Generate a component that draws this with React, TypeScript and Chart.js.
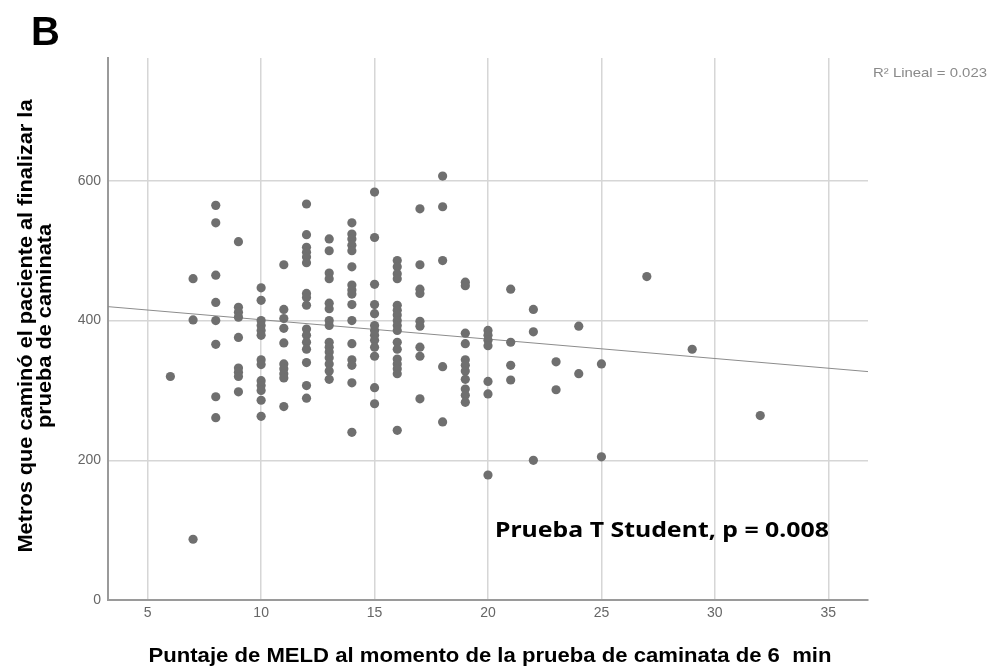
import React, { useEffect, useRef } from "react";
import { Chart, registerables } from "chart.js";

Chart.register(...registerables);

// MELD score of each patient (x) and metres walked (y)
const meldScores: number[] = [
  6,
  7, 7, 7,
  8, 8, 8, 8, 8, 8, 8, 8,
  9, 9, 9, 9, 9, 9, 9, 9, 9,
  10, 10, 10, 10, 10, 10, 10, 10, 10, 10, 10, 10, 10,
  11, 11, 11, 11, 11, 11, 11, 11, 11, 11,
  12, 12, 12, 12, 12, 12, 12, 12, 12, 12, 12, 12, 12, 12, 12, 12,
  13, 13, 13, 13, 13, 13, 13, 13, 13, 13, 13, 13, 13, 13, 13,
  14, 14, 14, 14, 14, 14, 14, 14, 14, 14, 14, 14, 14, 14, 14, 14,
  15, 15, 15, 15, 15, 15, 15, 15, 15, 15, 15, 15, 15,
  16, 16, 16, 16, 16, 16, 16, 16, 16, 16, 16, 16, 16, 16, 16, 16, 16,
  17, 17, 17, 17, 17, 17, 17, 17, 17,
  18, 18, 18, 18, 18,
  19, 19, 19, 19, 19, 19, 19, 19, 19, 19, 19,
  20, 20, 20, 20, 20, 20, 20,
  21, 21, 21, 21,
  22, 22, 22,
  23, 23,
  24, 24,
  25, 25,
  27,
  29,
  32,
];

const metersWalked: number[] = [
  320,
  460, 401, 87,
  565, 540, 465, 426, 400, 366, 291, 261,
  513, 419, 412, 405, 376, 332, 326, 320, 298,
  447, 429, 400, 393, 386, 379, 344, 337, 314, 307, 300, 286, 263,
  480, 416, 403, 389, 368, 338, 331, 324, 318, 277,
  567, 523, 505, 498, 491, 483, 439, 433, 422, 388, 379, 369, 359, 340, 307, 289,
  517, 500, 468, 460, 425, 417, 400, 393, 369, 362, 355, 347, 338, 328, 316,
  540, 524, 517, 508, 500, 477, 451, 444, 438, 423, 400, 367, 344, 336, 311, 240,
  584, 519, 452, 423, 410, 393, 386, 379, 372, 362, 349, 304, 281,
  486, 477, 467, 460, 422, 415, 408, 400, 393, 386, 369, 359, 345, 338, 331, 324, 243,
  560, 480, 445, 439, 399, 392, 362, 349, 288,
  607, 563, 486, 334, 255,
  455, 450, 382, 367, 344, 336, 328, 316, 302, 293, 283,
  386, 379, 372, 364, 313, 295, 179,
  445, 369, 336, 315,
  416, 384, 200,
  341, 301,
  392, 324,
  338, 205,
  463,
  359,
  264,
];

// linear fit line end points (x range of the axis, fitted metres)
const fitX: number[] = [3.25, 36.75];
const fitY: number[] = [420, 327];

const xTicks: number[] = [5, 10, 15, 20, 25, 30, 35];
const yTicks: number[] = [0, 200, 400, 600];

const panelLabel = "B";
const fitLabel = "R\u00B2 Lineal = 0.023";
const testLabel = "Prueba T Student, p = 0.008";
const xTitle = "Puntaje de MELD al momento de la prueba de caminata de 6  min";
const yTitle = ["Metros que camin\u00F3 el paciente al finalizar la", "prueba de caminata"];

const SANS = "'Liberation Sans', Arial, sans-serif";

function drawStretched(
  ctx: CanvasRenderingContext2D,
  text: string,
  x: number,
  y: number,
  scaleX: number,
  rotate: boolean,
  align: CanvasTextAlign
) {
  ctx.save();
  ctx.translate(x, y);
  if (rotate) ctx.rotate(-Math.PI / 2);
  ctx.scale(scaleX, 1);
  ctx.textAlign = align;
  ctx.textBaseline = "alphabetic";
  ctx.fillText(text, 0, 0);
  ctx.restore();
}

const textPlugin = {
  id: "extraText",
  afterDraw(chart: any) {
    const ctx = chart.ctx as CanvasRenderingContext2D;
    const area = chart.chartArea;
    ctx.save();

    // panel letter
    ctx.fillStyle = "#000";
    ctx.font = `bold 40px ${SANS}`;
    drawStretched(ctx, panelLabel, 31, 45, 1, false, "left");

    // R² label
    ctx.fillStyle = "#8a8a8a";
    ctx.font = `13px ${SANS}`;
    {
      const w = ctx.measureText(fitLabel).width;
      drawStretched(ctx, fitLabel, 873, 77, 114 / w, false, "left");
    }

    // test annotation
    ctx.fillStyle = "#000";
    ctx.font = "bold 21px 'Noto Sans', 'Open Sans', sans-serif";
    {
      const w = ctx.measureText(testLabel).width;
      drawStretched(ctx, testLabel, 495, 537, 334 / w, false, "left");
    }

    // x axis title
    ctx.font = `bold 20px ${SANS}`;
    {
      const w = ctx.measureText(xTitle).width;
      drawStretched(ctx, xTitle, (area.left + area.right) / 2 + 2, 662, 683 / w, false, "center");
    }

    // y axis title (two lines)
    const cy = 326;
    {
      const w1 = ctx.measureText(yTitle[0]).width;
      const s = 453 / w1;
      drawStretched(ctx, yTitle[0], 32, cy, s, true, "center");
      drawStretched(ctx, yTitle[1], 51, cy, s, true, "center");
    }
    ctx.restore();
  },
};

export default function App() {
  const ref = useRef<HTMLCanvasElement | null>(null);

  useEffect(() => {
    document.body.style.margin = "0";
    const canvas = ref.current;
    if (!canvas) return;
    const points = meldScores.map((x, i) => ({ x, y: metersWalked[i] }));
    const fit = fitX.map((x, i) => ({ x, y: fitY[i] }));
    const chart = new Chart(canvas, {
      type: "scatter",
      data: {
        datasets: [
          {
            type: "scatter",
            label: "Pacientes",
            data: points,
            pointRadius: 4.6,
            pointHoverRadius: 4.6,
            pointBackgroundColor: "#6f6f6f",
            pointBorderWidth: 0,
            order: 1,
          },
          {
            type: "line",
            label: "Lineal",
            data: fit,
            borderColor: "#8c8c8c",
            borderWidth: 1,
            pointRadius: 0,
            fill: false,
            order: 2,
          } as any,
        ],
      },
      options: {
        responsive: false,
        animation: false,
        events: [],
        layout: { padding: { top: 58, right: 122, left: 0, bottom: 0 } },
        plugins: {
          legend: { display: false },
          tooltip: { enabled: false },
          title: { display: false },
        },
        scales: {
          x: {
            type: "linear",
            min: 3.25,
            max: 36.75,
            afterBuildTicks: (s: any) => {
              s.ticks = xTicks.map((v) => ({ value: v }));
            },
            afterFit: (s: any) => {
              s.height = 70;
            },
            grid: {
              color: "#d6d6d6",
              lineWidth: 1.5,
              drawTicks: false,
            },
            border: { color: "#9a9a9a", width: 2 },
            ticks: {
              padding: 5,
              color: "#666",
              font: { family: SANS, size: 14 },
              maxRotation: 0,
            },
            title: { display: false },
          },
          y: {
            type: "linear",
            min: 0,
            max: 776,
            afterBuildTicks: (s: any) => {
              s.ticks = yTicks.map((v) => ({ value: v }));
            },
            afterFit: (s: any) => {
              s.width = 108;
            },
            grid: {
              color: "#d6d6d6",
              lineWidth: 1.5,
              drawTicks: false,
            },
            border: { color: "#9a9a9a", width: 2 },
            ticks: {
              padding: 7,
              color: "#666",
              font: { family: SANS, size: 14 },
            },
            title: { display: false },
          },
        },
      },
      plugins: [textPlugin],
    });
    return () => chart.destroy();
  }, []);

  return (
    <div style={{ width: 990, height: 670, background: "#fff" }}>
      <canvas ref={ref} width={990} height={670} />
    </div>
  );
}
